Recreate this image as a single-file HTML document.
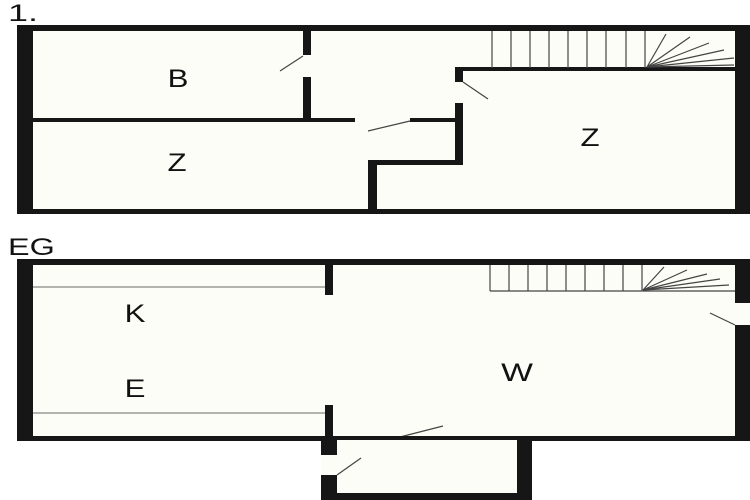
<!DOCTYPE html>
<html><head><style>
body{margin:0;background:#fff;width:750px;height:500px;overflow:hidden}
svg{display:block}
text{font-family:"Liberation Sans",sans-serif;fill:#111}
</style></head><body>
<svg width="750" height="500" viewBox="0 0 750 500" xmlns="http://www.w3.org/2000/svg">
<rect width="750" height="500" fill="#fff"/>
<!-- Upper floor -->
<rect x="17" y="25" width="733" height="189" fill="#161616"/>
<rect x="33" y="31" width="702" height="178" fill="#fdfdf7"/>
<rect x="303" y="31" width="8" height="24" fill="#161616"/>
<rect x="303" y="77" width="8" height="44" fill="#161616"/>
<line x1="280" y1="71" x2="303" y2="56" stroke="#444" stroke-width="1.2"/>
<rect x="33" y="118" width="322" height="4" fill="#161616"/>
<rect x="410" y="118" width="50" height="4" fill="#161616"/>
<line x1="368" y1="131" x2="410" y2="121" stroke="#444" stroke-width="1.2"/>
<rect x="455" y="68" width="8" height="14" fill="#161616"/>
<rect x="455" y="103" width="8" height="62" fill="#161616"/>
<line x1="463" y1="82" x2="488" y2="99" stroke="#444" stroke-width="1.2"/>
<rect x="455" y="67" width="280" height="4" fill="#161616"/>
<rect x="368" y="160" width="95" height="5" fill="#161616"/>
<rect x="368" y="160" width="9" height="50" fill="#161616"/>
<g stroke="#444" stroke-width="1.2">
<line x1="492" y1="31" x2="492" y2="68"/><line x1="511" y1="31" x2="511" y2="68"/><line x1="530" y1="31" x2="530" y2="68"/><line x1="549" y1="31" x2="549" y2="68"/><line x1="568" y1="31" x2="568" y2="68"/><line x1="587" y1="31" x2="587" y2="68"/><line x1="606" y1="31" x2="606" y2="68"/><line x1="626" y1="31" x2="626" y2="68"/><line x1="645" y1="31" x2="645" y2="68"/>
<line x1="647" y1="67" x2="666" y2="34"/><line x1="647" y1="67" x2="690" y2="37"/><line x1="647" y1="67" x2="709" y2="43"/><line x1="647" y1="67" x2="724" y2="50"/><line x1="647" y1="67" x2="734" y2="58"/><line x1="647" y1="67" x2="734" y2="65"/>
</g>
<text x="8" y="21" font-size="24" transform="translate(8 0) scale(1.5 1) translate(-8 0)">1.</text>
<text x="178" y="87" font-size="25" text-anchor="middle" transform="translate(178 0) scale(1.25 1) translate(-178 0)">B</text>
<text x="177" y="171" font-size="25" text-anchor="middle" transform="translate(177 0) scale(1.25 1) translate(-177 0)">Z</text>
<text x="590" y="146" font-size="25" text-anchor="middle" transform="translate(590 0) scale(1.25 1) translate(-590 0)">Z</text>

<!-- Ground floor -->
<rect x="17" y="259" width="733" height="182" fill="#161616"/>
<rect x="33" y="265" width="702" height="171" fill="#fdfdf7"/>
<rect x="735" y="303" width="15" height="22" fill="#fdfdf7"/>
<line x1="710" y1="313" x2="735" y2="325" stroke="#444" stroke-width="1.2"/>
<rect x="325" y="265" width="8" height="30" fill="#161616"/>
<rect x="325" y="405" width="8" height="32" fill="#161616"/>
<line x1="33" y1="287" x2="325" y2="287" stroke="#666" stroke-width="1"/>
<line x1="33" y1="413" x2="325" y2="413" stroke="#666" stroke-width="1"/>
<rect x="400" y="435" width="55" height="7" fill="#fdfdf7"/>
<rect x="333" y="436" width="185" height="6" fill="#fdfdf7"/>
<rect x="333" y="436" width="67" height="4" fill="#161616"/>
<rect x="455" y="436" width="63" height="4" fill="#161616"/>
<line x1="400" y1="437" x2="443" y2="426" stroke="#444" stroke-width="1.2"/>
<rect x="321" y="436" width="211" height="64" fill="#161616"/>
<rect x="337" y="440" width="180" height="53" fill="#fdfdf7"/>
<rect x="321" y="455" width="16" height="20" fill="#fdfdf7"/>
<line x1="337" y1="475" x2="361" y2="458" stroke="#444" stroke-width="1.2"/>
<g stroke="#444" stroke-width="1.2">
<line x1="490" y1="265" x2="490" y2="291"/><line x1="509" y1="265" x2="509" y2="291"/><line x1="528" y1="265" x2="528" y2="291"/><line x1="547" y1="265" x2="547" y2="291"/><line x1="566" y1="265" x2="566" y2="291"/><line x1="585" y1="265" x2="585" y2="291"/><line x1="604" y1="265" x2="604" y2="291"/><line x1="623" y1="265" x2="623" y2="291"/><line x1="642" y1="265" x2="642" y2="291"/>
<line x1="490" y1="291" x2="735" y2="291"/>
<line x1="643" y1="290" x2="664" y2="267"/><line x1="643" y1="290" x2="687" y2="270"/><line x1="643" y1="290" x2="707" y2="274"/><line x1="643" y1="290" x2="720" y2="279"/><line x1="643" y1="290" x2="729" y2="285"/>
</g>
<text x="8" y="255" font-size="24" transform="translate(8 0) scale(1.35 1) translate(-8 0)">EG</text>
<text x="135" y="322" font-size="25" text-anchor="middle" transform="translate(135 0) scale(1.25 1) translate(-135 0)">K</text>
<text x="135" y="397" font-size="25" text-anchor="middle" transform="translate(135 0) scale(1.25 1) translate(-135 0)">E</text>
<text x="517" y="381" font-size="25" text-anchor="middle" transform="translate(517 0) scale(1.35 1) translate(-517 0)">W</text>
</svg>
</body></html>
